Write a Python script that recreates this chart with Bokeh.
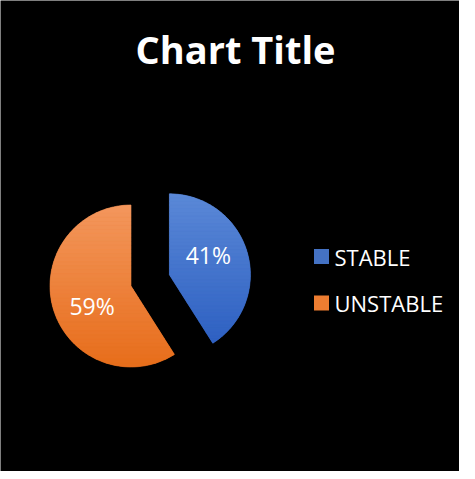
import numpy as np
from bokeh.plotting import figure
from bokeh.models import Range1d, ColumnDataSource
from bokeh.core.properties import value
from bokeh.embed import file_html
from bokeh.resources import INLINE

# ---- data ----
categories = ["STABLE", "UNSTABLE"]
shares = [41, 59]
labels = ["41%", "59%"]
colors_top = ["#5B88D7", "#F3975D"]
colors_mid = ["#4472C4", "#ED7D31"]
colors_bot = ["#2E61C2", "#E76D1B"]
title = "Chart Title"

W, H = 459, 471
p = figure(width=W, height=H, output_backend="svg", toolbar_location=None,
           x_range=Range1d(0, W), y_range=Range1d(0, H), min_border=0)
p.axis.visible = False
p.grid.visible = False
p.outline_line_color = None
p.background_fill_color = "black"
p.border_fill_color = "black"

# pie geometry (layout)
R = 81
base = np.array([130.5, 185.5])
explode = [40, 0]

vals = np.array(shares, dtype=float)
frac = vals / vals.sum()
ang = 2 * np.pi * frac
start = np.pi / 2 - np.concatenate([[0], np.cumsum(ang)[:-1]])
end = start - ang
mid = (start + end) / 2
cx = base[0] + np.array(explode) * np.cos(mid)
cy = base[1] + np.array(explode) * np.sin(mid)

src = ColumnDataSource(dict(x=cx, y=cy, s=start, e=end, c=colors_mid, cat=categories))
p.wedge(x="x", y="y", radius=R, start_angle="s", end_angle="e", direction="clock",
        fill_color="c", line_color=None, source=src)


def clip(poly, y0, keep_above):
    out = []
    n = len(poly)
    for i in range(n):
        a = poly[i]
        b = poly[(i + 1) % n]
        ina = a[1] >= y0 if keep_above else a[1] <= y0
        inb = b[1] >= y0 if keep_above else b[1] <= y0
        if ina:
            out.append(a)
        if ina != inb:
            t = (y0 - a[1]) / (b[1] - a[1])
            out.append((a[0] + t * (b[0] - a[0]), y0))
    return out


def hex2rgb(h):
    return np.array([int(h[i:i + 2], 16) for i in (1, 3, 5)], dtype=float)


# vertical gradient bands over each slice
nb = 40
for i in range(len(shares)):
    th = np.linspace(start[i], end[i], 120)
    poly = [(cx[i], cy[i])] + [(cx[i] + R * np.cos(t), cy[i] + R * np.sin(t)) for t in th]
    ys = [q[1] for q in poly]
    ymin, ymax = min(ys), max(ys)
    edges = np.linspace(ymax, ymin, nb + 1)
    ct, cb = hex2rgb(colors_top[i]), hex2rgb(colors_bot[i])
    bx, by, bc = [], [], []
    for k in range(nb):
        y1, y0 = edges[k], edges[k + 1]
        pp = clip(poly, y0, True)
        if len(pp) < 3:
            continue
        pp = clip(pp, y1, False)
        if len(pp) < 3:
            continue
        f = (k + 0.5) / nb
        c = ct + (cb - ct) * f
        col = "#%02x%02x%02x" % tuple(int(round(v)) for v in c)
        bx.append([q[0] for q in pp])
        by.append([q[1] for q in pp])
        bc.append(col)
    p.patches(xs=bx, ys=by, fill_color=bc, line_color=bc, line_width=0.6)

# percentage labels
lr = 0.54 * R
la = mid + 0.19
p.text(x=cx + lr * np.cos(la), y=cy + lr * np.sin(la), text=labels,
       text_color="white", text_font=value("Open Sans"), text_font_size="23px",
       text_align="center", text_baseline="middle")

# title
p.text(x=[235], y=[423], text=[title], text_color="white",
       text_font=value("Open Sans"), text_font_style="bold", text_font_size="38px",
       text_align="center", text_baseline="middle")

# legend
lx = 321
ly = np.array([215, 168.5])
p.rect(x=[lx] * len(categories), y=ly, width=15, height=15, fill_color=colors_mid,
       line_color=None)
p.text(x=[lx + 13] * len(categories), y=ly, text=categories, text_color="white",
       text_font=value("Open Sans"), text_font_size="22px",
       text_align="left", text_baseline="middle")

open("out.html", "w").write(file_html(p, INLINE))
